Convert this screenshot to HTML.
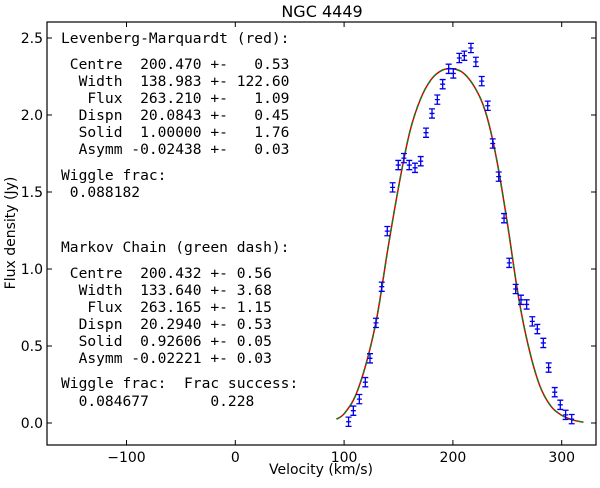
<!DOCTYPE html>
<html><head><meta charset="utf-8"><style>
body{margin:0;background:#fff;width:600px;height:483px;overflow:hidden}
svg text{font-family:"DejaVu Sans","Liberation Sans",sans-serif}
.m{font-family:"DejaVu Sans Mono","Liberation Mono",monospace;font-size:14.6px;white-space:pre}
</style></head><body>
<svg id="c" width="600" height="483" xmlns="http://www.w3.org/2000/svg">
<text x="322" y="17" font-size="16" text-anchor="middle">NGC 4449</text>
<rect x="47" y="22" width="549" height="423" fill="none" stroke="#000" stroke-width="1.2"/>
<g id="ticks"></g>
<g id="curves"></g>
<g id="pts"></g>
<text x="321" y="474" font-size="14" text-anchor="middle">Velocity (km/s)</text>
<text transform="translate(15,233) rotate(-90)" font-size="14" text-anchor="middle">Flux density (Jy)</text>
<g>
<text class="m" x="61" y="43">Levenberg-Marquardt (red):</text>
<text class="m" x="61" y="69"> Centre  200.470 +-   0.53</text>
<text class="m" x="61" y="86">  Width  138.983 +- 122.60</text>
<text class="m" x="61" y="103">   Flux  263.210 +-   1.09</text>
<text class="m" x="61" y="120">  Dispn  20.0843 +-   0.45</text>
<text class="m" x="61" y="137">  Solid  1.00000 +-   1.76</text>
<text class="m" x="61" y="154">  Asymm -0.02438 +-   0.03</text>
<text class="m" x="61" y="180">Wiggle frac:</text>
<text class="m" x="61" y="197"> 0.088182</text>
<text class="m" x="61" y="252">Markov Chain (green dash):</text>
<text class="m" x="61" y="278"> Centre  200.432 +- 0.56</text>
<text class="m" x="61" y="295">  Width  133.640 +- 3.68</text>
<text class="m" x="61" y="312">   Flux  263.165 +- 1.15</text>
<text class="m" x="61" y="329">  Dispn  20.2940 +- 0.53</text>
<text class="m" x="61" y="346">  Solid  0.92606 +- 0.05</text>
<text class="m" x="61" y="363">  Asymm -0.02221 +- 0.03</text>
<text class="m" x="61" y="388">Wiggle frac:  Frac success:</text>
<text class="m" x="61" y="406">  0.084677       0.228</text>
</g>
</svg>
<script>
const xTicks=[-100,0,100,200,300];
const yTicks=[0.0,0.5,1.0,1.5,2.0,2.5];
const dataV=[104.1,108.5,114,119.5,123.8,129.3,134.6,139.7,144.6,149.8,155,159.9,165.2,170.4,175.3,180.8,185.7,190.6,196.1,200.4,205.9,210.5,216.6,221.1,226.5,232,236.6,242.1,247,251.8,257.7,262.6,267.8,273,277.6,283.1,288,293.6,298.7,303.6,309.2];
const dataF=[0.008,0.08,0.155,0.265,0.42,0.65,0.885,1.246,1.53,1.675,1.72,1.675,1.657,1.70,1.885,2.01,2.10,2.20,2.30,2.27,2.37,2.385,2.435,2.345,2.22,2.06,1.815,1.60,1.33,1.04,0.87,0.80,0.77,0.66,0.61,0.52,0.36,0.20,0.118,0.053,0.025];
const dataErr=0.03;
const fitV=[93,100,110,120,130,140,150,160,170,180,190,200,210,220,230,240,250,260,270,280,290,300,310,320];
const fitF=[0.025,0.06,0.17,0.38,0.68,1.12,1.53,1.88,2.10,2.23,2.29,2.30,2.27,2.18,2.02,1.72,1.30,0.83,0.48,0.24,0.11,0.05,0.02,0.005];
const NS='http://www.w3.org/2000/svg';
const X=v=>235.3+v*1.088;
const Y=f=>423-f*154;
function mk(t,a,p){const e=document.createElementNS(NS,t);for(const k in a)e.setAttribute(k,a[k]);p.appendChild(e);return e;}
const tg=document.getElementById('ticks');
xTicks.forEach(t=>{const x=X(t);
 let l=mk('path',{d:`M${x},445v-5M${x},22v5`,stroke:'#000','stroke-width':1},tg);
 
 
 let s=mk('text',{x:x,y:462,'font-size':14,'text-anchor':'middle'},tg);s.textContent=(t<0?'\u2212'+(-t):t);
 
 });
yTicks.forEach(t=>{const y=Y(t);
 let l=mk('path',{d:`M47,${y}h5M596,${y}h-5`,stroke:'#000','stroke-width':1},tg);
 
 
 let s=mk('text',{x:43,y:y+5,'font-size':14,'text-anchor':'end'},tg);s.textContent=t.toFixed(1);
 
 });
const cg=document.getElementById('curves');
const P=fitV.map((v,i)=>[X(v),Y(fitF[i])]);
let d='M'+P[0][0].toFixed(1)+','+P[0][1].toFixed(1);
for(let i=0;i<P.length-1;i++){
 const p0=P[Math.max(0,i-1)],p1=P[i],p2=P[i+1],p3=P[Math.min(P.length-1,i+2)];
 const c1=[p1[0]+(p2[0]-p0[0])/6,p1[1]+(p2[1]-p0[1])/6];
 const c2=[p2[0]-(p3[0]-p1[0])/6,p2[1]-(p3[1]-p1[1])/6];
 d+=`C${c1[0].toFixed(1)},${c1[1].toFixed(1)} ${c2[0].toFixed(1)},${c2[1].toFixed(1)} ${p2[0].toFixed(1)},${p2[1].toFixed(1)}`;
}
let r=mk('path',{d:d,fill:'none',stroke:'#e00000','stroke-width':1.5},cg);


let g=mk('path',{d:d,fill:'none',stroke:'#1a7a1a','stroke-width':1.5,'stroke-dasharray':'5,4'},cg);


const pg=document.getElementById('pts');
dataV.forEach((v,i)=>{const x=X(v),y=Y(dataF[i]),e=dataErr*154;
 let p=mk('path',{d:`M${x},${y-e}V${y+e}M${x-3},${y-e}h6M${x-3},${y+e}h6M${x-2.5},${y}h5`,stroke:'#0000ee','stroke-width':1.3,fill:'none'},pg);
 
 });
</script>
</body></html>
